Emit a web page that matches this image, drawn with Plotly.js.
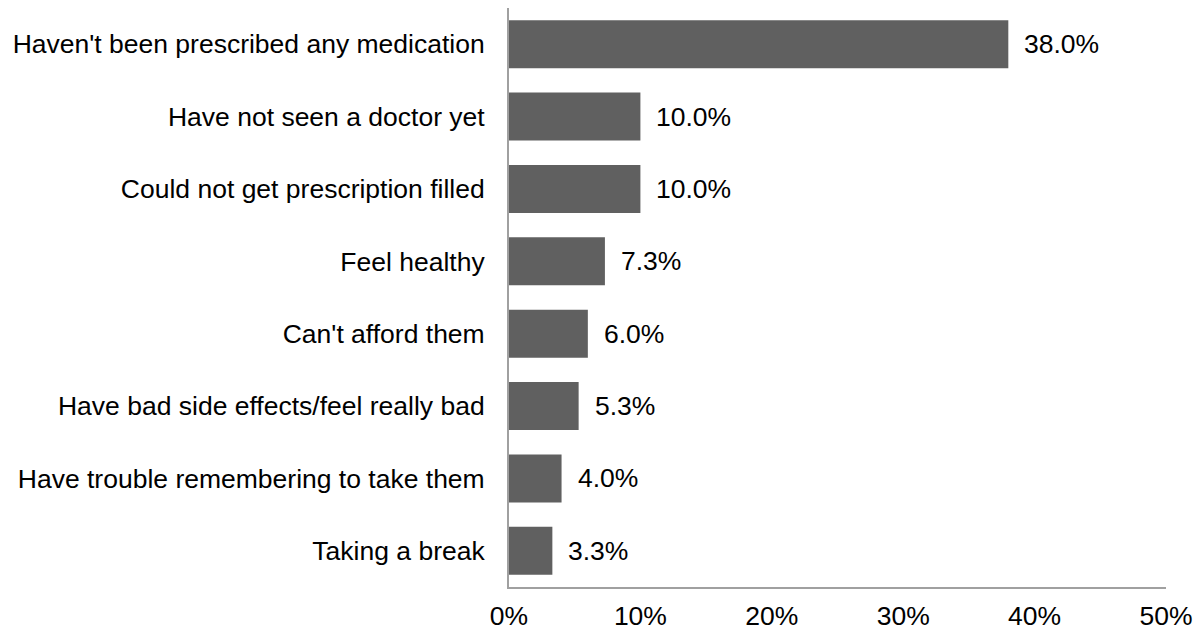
<!DOCTYPE html>
<html>
<head>
<meta charset="utf-8">
<script src="https://cdn.plot.ly/plotly-3.0.1.min.js"></script>
<style>html,body{margin:0;padding:0;background:#fff;}#chart{width:1200px;height:633px;}</style>
</head>
<body>
<div id="chart"></div>
<script>
const categories = [
  "Haven't been prescribed any medication",
  "Have not seen a doctor yet",
  "Could not get prescription filled",
  "Feel healthy",
  "Can't afford them",
  "Have bad side effects/feel really bad",
  "Have trouble remembering to take them",
  "Taking a break"
];
const values = [38.0, 10.0, 10.0, 7.3, 6.0, 5.3, 4.0, 3.3];
const tickValues = [0, 10, 20, 30, 40, 50];
const tickLabels = ["0%", "10%", "20%", "30%", "40%", "50%"];

const FONT = "Liberation Sans, Arial, sans-serif";
const FS = 26.5;

const trace = {
  type: 'bar',
  orientation: 'h',
  x: values,
  y: categories,
  marker: {color: '#606060'},
  hoverinfo: 'none'
};

const annotations = values.map((v, i) => ({
  x: v, y: categories[i], xref: 'x', yref: 'y',
  text: v.toFixed(1) + '%',
  showarrow: false, xanchor: 'left', yanchor: 'middle',
  xshift: 14,
  font: {family: FONT, size: FS, color: '#000'}
}));

const layout = {
  width: 1200, height: 633,
  margin: {l: 509, r: 34, t: 8, b: 46},
  paper_bgcolor: '#fff', plot_bgcolor: '#fff',
  showlegend: false,
  bargap: 0.337,
  font: {family: FONT, size: FS, color: '#000'},
  xaxis: {
    range: [0, 50],
    tickvals: tickValues, ticktext: tickLabels,
    showgrid: false, zeroline: false,
    showline: true, linecolor: '#a0a0a0', linewidth: 2,
    ticks: 'outside', ticklen: 4, tickcolor: 'rgba(0,0,0,0)',
    tickfont: {family: FONT, size: FS, color: '#000'},
    fixedrange: true
  },
  yaxis: {
    autorange: 'reversed',
    showgrid: false, zeroline: false,
    showline: true, linecolor: '#a0a0a0', linewidth: 2,
    ticks: 'outside', ticklen: 17, tickcolor: 'rgba(0,0,0,0)',
    tickfont: {family: FONT, size: FS, color: '#000'},
    fixedrange: true
  },
  annotations: annotations
};

Plotly.newPlot('chart', [trace], layout, {displayModeBar: false, staticPlot: true});
</script>
</body>
</html>
